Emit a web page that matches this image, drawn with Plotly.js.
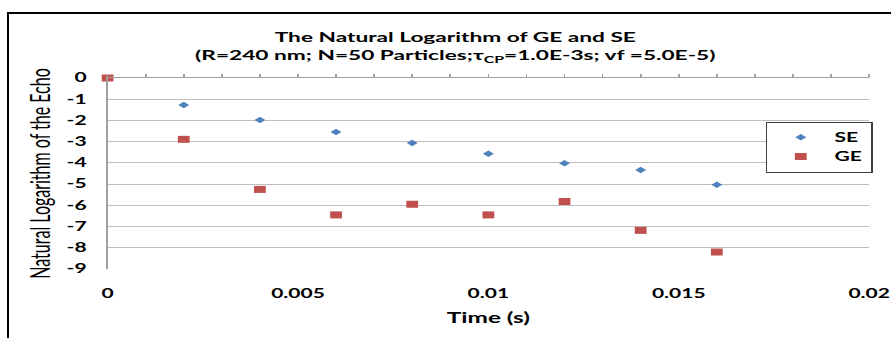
<!DOCTYPE html>
<html>
<head>
<meta charset="utf-8">
<script src="https://cdn.plot.ly/plotly-3.0.1.min.js"></script>
<style>
html,body{margin:0;padding:0;background:#fff;overflow:hidden;width:891px;height:338px;}
#chart{position:absolute;left:0;top:0;width:530px;height:338px;transform-origin:0 0;transform:scaleX(1.681132);}
#frame{position:absolute;left:7px;top:12px;width:960px;height:400px;border:2px solid #000;pointer-events:none;}
</style>
</head>
<body>
<div id="chart"></div>
<div id="frame"></div>
<script>
const time = [0, 0.002, 0.004, 0.006, 0.008, 0.010, 0.012, 0.014, 0.016];
const seValues = [0, -1.27, -1.98, -2.55, -3.06, -3.57, -4.02, -4.34, -5.03];
const geValues = [0, -2.89, -5.25, -6.45, -5.95, -6.45, -5.82, -7.18, -8.2];
const xTickVals = [0, 0.005, 0.01, 0.015, 0.02];
const xTickText = ['0', '0.005', '0.01', '0.015', '0.02'];
const yTickVals = [0, -1, -2, -3, -4, -5, -6, -7, -8, -9];
const yTickText = ['0', '-1', '-2', '-3', '-4', '-5', '-6', '-7', '-8', '-9'];

const FONT = 'Lato, "Open Sans", sans-serif';
const bold = a => a.map(t => '<b>' + t + '</b>');

const traces = [
  {x: time, y: seValues, name: '<b>SE</b>', type: 'scatter', mode: 'markers', legendgroup: 'se',
   cliponaxis: false, marker: {symbol: 'diamond', size: 5, color: '#4F81BD'}},
  {x: time, y: geValues, name: '<b>GE</b>', type: 'scatter', mode: 'markers', legendgroup: 'ge',
   cliponaxis: false, marker: {symbol: 'square', size: 7, color: '#C0504D'}},
  {x: time, y: geValues, xaxis: 'x2', type: 'scatter', mode: 'markers',
   marker: {opacity: 0}, showlegend: false, hoverinfo: 'skip'}
];

const layout = {
  width: 530, height: 338,
  margin: {l: 63.65, r: 11.9, t: 78, b: 69},
  paper_bgcolor: 'rgba(0,0,0,0)', plot_bgcolor: '#fff',
  font: {family: FONT, color: '#000'},
  title: {
    text: '<b>The Natural Logarithm of GE and SE<br>(R=240 nm; N=50 Particles;τ<sub>CP</sub>=1.0E-3s; vf =5.0E-5)</b>',
    font: {family: FONT, size: 13.5, color: '#000'},
    x: 0.511, xref: 'container', xanchor: 'center',
    y: 0.875, yref: 'container', yanchor: 'top'
  },
  xaxis: {
    range: [0, 0.02], tickvals: xTickVals, ticktext: bold(xTickText),
    showgrid: false, zeroline: false, showline: false, ticks: '',
    ticklabelstandoff: 16,
    tickfont: {family: FONT, size: 12.5, color: '#000', weight: 'bold'},
    title: {text: '<b>Time (s)</b>', font: {family: FONT, size: 14.5, color: '#000'}, standoff: 12}
  },
  xaxis2: {
    overlaying: 'x', anchor: 'y', side: 'top', range: [0, 0.02],
    dtick: 0.001, tick0: 0, ticks: 'outside', ticklen: 3, tickcolor: '#A0A0A0',
    showticklabels: false, showgrid: false, zeroline: false,
    showline: true, linecolor: '#A0A0A0', linewidth: 1
  },
  yaxis: {
    range: [-9, 0], tickvals: yTickVals, ticktext: bold(yTickText),
    showgrid: true, gridcolor: '#BEBEBE', gridwidth: 1,
    zeroline: false, showline: true, linecolor: '#A0A0A0', linewidth: 1,
    ticks: '', ticklabelstandoff: 9,
    tickfont: {family: FONT, size: 12.5, color: '#000', weight: 'bold'},
    title: {text: 'Natural Logarithm of the Echo', font: {family: FONT, size: 16, color: '#000'}, standoff: 5}
  },
  showlegend: true,
  legend: {
    x: 0.862, y: 0.771, xanchor: 'left', yanchor: 'top',
    bordercolor: '#404040', borderwidth: 1, bgcolor: '#fff',
    font: {family: FONT, size: 12.5, color: '#000'},
    tracegroupgap: 8, itemwidth: 30, traceorder: 'normal'
  }
};

Plotly.newPlot('chart', traces, layout, {displayModeBar: false, staticPlot: true});
</script>
</body>
</html>
